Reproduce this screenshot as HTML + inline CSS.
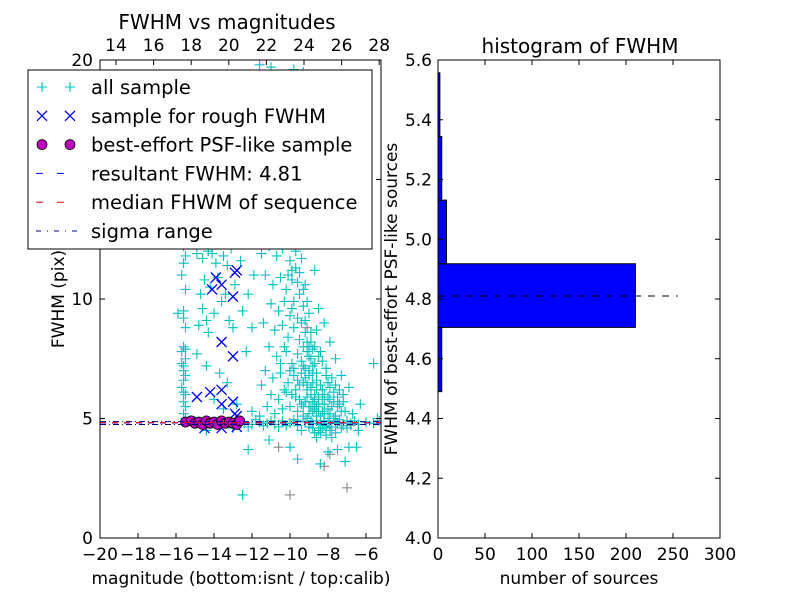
<!DOCTYPE html>
<html><head><meta charset="utf-8"><style>
html,body{margin:0;padding:0;background:#fff;}
svg{display:block;font-family:"DejaVu Sans","Liberation Sans",sans-serif;}
</style></head><body>
<svg id="chart" width="800" height="600" viewBox="0 0 800 600">
<defs>
<clipPath id="clipL"><rect x="100" y="60" width="281" height="478"/></clipPath>
<clipPath id="clipR"><rect x="438" y="60" width="282" height="478"/></clipPath>
</defs>
<rect width="800" height="600" fill="#fff"/>
<g id="left"></g>
<g id="right"></g>
</svg>
<script>
const allSample=[[-15.6,12.2],[-15.5,11.8],[-15.6,11.5],[-15.7,11.0],[-15.5,10.4],[-15.6,9.5],[-15.6,9.2],[-15.5,8.8],[-15.6,8.0],[-15.7,7.8],[-15.5,7.5],[-15.6,7.2],[-15.6,7.0],[-15.5,6.8],[-15.6,6.6],[-15.7,6.3],[-15.5,6.0],[-15.6,5.7],[-15.5,5.5],[-15.6,5.2],[-15.5,5.0],[-15.6,12.6],[-15.5,7.9],[-15.7,7.3],[-15.6,6.1],
[-14.9,11.9],[-14.6,11.7],[-14.3,12.0],[-13.9,11.5],[-13.5,11.8],[-13.1,12.1],[-14.5,10.8],[-14.2,10.5],[-13.8,10.9],[-13.4,10.2],[-12.9,10.6],[-14.6,9.6],[-14.0,9.4],[-13.6,9.9],[-13.2,9.1],[-14.8,8.9],[-14.3,8.6],[-13.0,8.8],[-12.5,9.5],[-12.2,10.2],[-14.9,7.7],[-14.4,7.2],[-13.7,6.9],[-13.3,6.5],[-14.0,5.8],[-13.5,5.4],[-12.8,5.6],[-12.3,7.8],[-12.0,8.8],[-11.9,11.0],[-12.6,11.6],[-15.9,9.4],[-14.7,12.3],[-14.1,11.9],[-13.3,11.4],[-14.7,10.2],[-14.4,9.1],
[-11.5,11.9],[-11.1,12.2],[-10.7,11.8],[-10.4,12.1],[-10.0,11.6],[-9.7,12.0],[-9.4,11.7],[-11.3,11.0],[-10.9,10.6],[-10.5,10.9],[-10.2,10.4],[-9.9,10.8],[-9.5,10.2],[-9.2,10.6],[-11.0,9.8],[-10.6,9.5],[-10.3,9.9],[-9.9,9.6],[-9.6,9.2],[-9.3,9.7],[-9.0,9.4],[-11.4,9.0],[-10.8,8.7],[-10.4,8.9],[-10.1,8.4],[-9.8,8.8],[-9.5,8.3],[-9.2,8.6],[-8.9,8.2],[-8.6,8.7],[-11.1,8.0],[-10.7,7.6],[-10.2,7.8],[-9.9,7.3],[-9.6,7.7],[-9.3,7.2],[-9.0,7.6],[-8.7,7.3],[-8.4,7.8],[-8.1,7.1],[-11.3,7.0],[-10.9,6.7],[-10.5,6.9],[-10.1,6.5],[-9.8,6.8],[-9.5,6.4],[-9.2,6.7],[-8.9,6.3],[-8.6,6.6],[-8.3,6.2],[-8.0,6.5],[-7.7,6.1],[-11.0,6.0],[-10.6,5.8],[-10.2,6.1],[-9.7,5.9],[-9.4,5.6],[-9.1,5.9],[-8.8,5.7],[-8.5,5.9],[-8.2,5.6],[-7.9,5.8],[-7.5,5.5],[-7.2,6.0],[-9.6,5.3],[-9.0,5.2],[-8.6,5.1],[-8.3,5.3],[-7.9,5.2],[-7.6,5.1],[-7.3,5.3],[-9.3,5.5],[-8.7,5.4],[-8.0,5.0],
[-9.0,7.0],[-8.8,6.9],[-9.1,6.2],[-8.7,6.0],[-8.9,5.5],[-8.5,5.3],[-8.2,4.9],[-8.8,4.6],[-8.4,4.4],[-8.1,4.3],[-7.9,4.5],[-7.6,4.4],[-7.3,4.6],[-8.6,4.2],[-7.8,4.2],[-7.0,4.9],[-6.7,5.2],[-6.3,5.6],[-6.4,4.5],[-5.6,7.3],[-5.4,5.0],[-6.9,3.8],[-8.0,3.6],[-7.5,3.7],[-6.5,3.8],[-9.6,3.3],[-8.4,3.1],[-7.1,3.2],[-9.4,12.8],[-9.0,12.3],[-8.7,11.2],[-8.5,9.6],[-8.2,9.0],[-7.9,8.2],[-7.6,7.5],[-7.3,6.8],[-6.9,6.3],[-10.8,13.5],[-10.2,14.0],[-9.6,14.5],[-11.2,15.0],[-10.5,16.0],[-9.8,17.0],[-11.6,19.8],[-11.0,19.7],[-9.8,19.6],[-9.3,19.5],[-11.9,13.0],[-12.3,12.5],[-10.0,3.8],[-11.1,4.1],[-12.5,1.8],[-12.2,3.7],
[-9.3,8.0],[-9.1,7.8],[-8.9,7.5],[-8.8,7.9],[-9.4,7.4],[-9.2,7.1],[-9.0,6.8],[-8.8,6.5],[-8.6,6.2],[-9.3,6.5],[-9.1,6.4],[-8.9,6.0],[-8.7,5.8],[-8.5,5.6],[-8.3,5.8],[-9.2,5.7],[-9.0,5.5],[-8.8,5.3],[-8.6,5.5],[-8.4,5.1],[-8.2,5.2],[-8.0,5.4],[-7.8,5.5],[-7.7,5.0],[-7.5,4.8],[-7.4,5.6],[-7.9,4.9],[-8.1,4.6],[-8.3,4.6],[-8.5,4.5],[-8.7,4.4],[-8.9,4.9],[-9.1,5.0],[-9.3,5.1],[-9.5,5.8],[-9.7,6.2],[-9.9,6.0],[-9.4,6.9],[-9.6,6.6],[-9.8,7.1],[-9.1,8.2],[-8.9,8.6],[-8.7,8.0],[-8.5,7.6],[-8.3,7.4],[-8.1,6.8],[-7.9,6.3],[-7.8,6.7],[-7.6,6.4],[-7.4,6.2],[-7.2,5.7],[-7.1,5.3],[-7.5,5.9],[-7.7,5.7],[-8.0,5.9],[-8.2,6.0],[-8.4,6.4],[-8.6,6.9],[-8.8,7.2],[-9.0,8.0],[-9.2,9.1],[-9.4,9.0],[-9.1,9.9],[-9.3,10.4],[-9.6,10.7],[-9.7,11.3],[-9.5,11.1],[-9.9,11.2],[-10.1,11.0],[-9.8,9.9],[-10.0,9.3],[-10.3,8.0],[-10.5,7.3],[-10.0,7.0],[-10.3,6.2],[-10.0,5.5],[-9.6,4.9],[-9.4,4.5],[-10.4,5.4],[-10.8,5.2],[-11.2,5.5],[-11.5,6.4],[-11.6,5.1],[-12.0,5.3],
[-12.4,4.8],[-12.0,4.75],[-11.6,4.85],[-11.2,4.8],[-10.8,4.75],[-10.4,4.9],[-10.0,4.8],[-9.6,4.7],[-9.2,4.85],[-8.8,4.8],[-8.4,4.75],[-8.0,4.8],[-7.6,4.85],[-7.2,4.7],[-6.8,4.8],[-6.4,4.75],[-6.0,4.85],[-5.6,4.8],[-5.3,4.9],[-13.0,4.6],[-14.4,4.5],[-15.0,4.9],[-12.2,4.65],[-11.8,4.95],[-11.4,4.7],[-11.0,4.9],[-10.6,4.65],[-10.2,4.7],[-9.8,4.95],[-9.0,4.65],[-8.6,4.9],[-8.2,4.7],[-7.8,4.65],[-7.4,4.95],[-7.0,4.6],[-6.6,4.9]];
const otherSample=[[-10.6,3.8],[-7.9,3.5],[-7.0,2.1],[-10.0,1.8],[-8.2,3.0],[-9.1,8.8],[-14.4,4.6],[-6.8,4.7]];
const roughSample=[[-12.9,11.1],[-12.8,11.2],[-13.9,10.9],[-14.1,10.4],[-13.0,10.1],[-13.6,10.6],[-13.6,8.2],[-13.0,7.6],[-14.2,6.1],[-13.6,6.2],[-13.6,5.6],[-13.0,5.7],[-12.9,5.2],[-12.8,5.1],[-14.5,4.6],[-13.6,4.6],[-12.8,4.65],[-14.2,4.8],[-14.9,5.9]];
const psfSample=[[-15.5,4.85],[-15.2,4.9],[-15.0,4.8],[-14.8,4.85],[-14.6,4.75],[-14.4,4.9],[-14.2,4.8],[-14.0,4.85],[-13.8,4.75],[-13.6,4.9],[-13.4,4.8],[-13.2,4.85],[-13.0,4.8],[-12.8,4.75],[-12.65,4.9]];
const resultFwhm=4.81;
const medianFwhm=4.83;
const sigmaRange=[4.75,4.87];
const binEdges=[4.49,4.705,4.918,5.131,5.344,5.557];
const binCounts=[4,210,9,4,2];
const bottomTicks=[-20,-18,-16,-14,-12,-10,-8,-6];
const topTicks=[14,16,18,20,22,24,26,28];
const leftYTicks=[0,5,10,15,20];
const histYTicks=[4.0,4.2,4.4,4.6,4.8,5.0,5.2,5.4,5.6];
const histXTicks=[0,50,100,150,200,250,300];

const NS='http://www.w3.org/2000/svg';
function mk(tag,attrs,parent){const e=document.createElementNS(NS,tag);for(const k in attrs)e.setAttribute(k,attrs[k]);parent.appendChild(e);return e;}
const L=document.getElementById('left'),R=document.getElementById('right');
const lx=v=>100+(v+20)*19, ly=v=>538-v*23.9, tx=v=>116+(v-14)*18.8;
const rx=v=>438+v*0.94, ry=v=>538-(v-4.0)*298.75;

const gL=mk('g',{'clip-path':'url(#clipL)'},L);
function plus(g,x,y,c,nm){const p=mk('path',{d:`M${x-5},${y}h10M${x},${y-5}v10`,stroke:c,'stroke-width':1.1,fill:'none'},g);}
function cross(g,x,y,c,nm){const p=mk('path',{d:`M${x-5},${y-5}l10,10M${x-5},${y+5}l10,-10`,stroke:c,'stroke-width':1.3,fill:'none'},g);}
function circ(g,x,y,nm){const p=mk('circle',{cx:x,cy:y,r:5,fill:'#bf00bf',stroke:'#000','stroke-width':0.8},g);}
otherSample.forEach(d=>plus(gL,lx(d[0]),ly(d[1]),'#888','other-point'));
allSample.forEach(d=>plus(gL,lx(d[0]),ly(d[1]),'#00bfbf','all-sample-point'));
roughSample.forEach(d=>cross(gL,lx(d[0]),ly(d[1]),'#0000ff','rough-sample-point'));
psfSample.forEach(d=>circ(gL,lx(d[0]),ly(d[1]),'psf-sample-point'));
function hline(g,y,c,dash,nm,x1,x2){const l=mk('line',{x1:x1,x2:x2,y1:y,y2:y,stroke:c,'stroke-width':1,'stroke-dasharray':dash},g);}
hline(gL,ly(resultFwhm),'#0000ff','6,6','resultant-fwhm-line',100,381);
hline(gL,ly(medianFwhm),'#ff0000','6,6','median-fwhm-line',100,381);
sigmaRange.forEach(s=>hline(gL,ly(s),'#00008b','6,3,1,3','sigma-range-line',100,381));

function axesFrame(g,x,y,w,h,nm){const r=mk('rect',{x:x,y:y,width:w,height:h,fill:'none',stroke:'#000','stroke-width':1},g);}
function txt(g,x,y,s,size,anchor,nm,rot){const t=mk('text',{x:x,y:y,'font-size':size,'text-anchor':anchor||'middle',fill:'#000'},g);if(rot)t.setAttribute('transform',`rotate(-90 ${x} ${y})`);t.textContent=s;return t;}
axesFrame(L,100,60,281,478,'scatter-frame');
bottomTicks.forEach(v=>{const x=lx(v);mk('line',{x1:x,x2:x,y1:538,y2:533,stroke:'#000'},L);txt(L,x,560,(v<0?'\u2212':'')+Math.abs(v),17,'middle','x-tick-label');});
topTicks.forEach(v=>{const x=tx(v);mk('line',{x1:x,x2:x,y1:60,y2:65,stroke:'#000'},L);txt(L,x,51,String(v),17,'middle','top-x-tick-label');});
leftYTicks.forEach(v=>{const y=ly(v);mk('line',{x1:100,x2:105,y1:y,y2:y,stroke:'#000'},L);mk('line',{x1:381,x2:376,y1:y,y2:y,stroke:'#000'},L);txt(L,93,y+6,String(v),17,'end','y-tick-label');});
txt(L,241,584,'magnitude (bottom:isnt / top:calib)',17,'middle','x-axis-title');
txt(L,64,299,'FWHM (pix)',17,'middle','y-axis-title',true);
txt(L,227,29,'FWHM vs magnitudes',20,'middle','scatter-title');

const lg=mk('g',{},L);
mk('rect',{x:28,y:70,width:344,height:179,fill:'#fff',stroke:'#000','stroke-width':1},lg);
const rows=['all sample','sample for rough FWHM','best-effort PSF-like sample','resultant FWHM: 4.81','median FHWM of sequence','sigma range'];
rows.forEach((s,i)=>{const y=87+i*28.8;
 if(i==0){plus(lg,42,y,'#00bfbf','legend-marker');plus(lg,70,y,'#00bfbf','legend-marker');}
 if(i==1){cross(lg,42,y,'#0000ff','legend-marker');cross(lg,70,y,'#0000ff','legend-marker');}
 if(i==2){circ(lg,42,y,'legend-marker');circ(lg,70,y,'legend-marker');}
 if(i==3)hline(lg,y,'#0000ff','7,14','legend-line',36,78);
 if(i==4)hline(lg,y,'#ff0000','7,14','legend-line',36,78);
 if(i==5)hline(lg,y,'#00008b','5,6,1,6','legend-line',36,78);
 txt(lg,91,y+7,s,19.5,'start','legend-entry');});

const gR=mk('g',{'clip-path':'url(#clipR)'},R);
binCounts.forEach((c,i)=>{const y1=ry(binEdges[i+1]),y0=ry(binEdges[i]);const b=mk('rect',{x:438,y:y1,width:rx(c)-438,height:y0-y1,fill:'#0000ff',stroke:'#000','stroke-width':1},gR);});
hline(gR,ry(resultFwhm),'#000','7,7','hist-fwhm-line',438,rx(255));
axesFrame(R,438,60,282,478,'hist-frame');
histXTicks.forEach(v=>{const x=rx(v);mk('line',{x1:x,x2:x,y1:538,y2:533,stroke:'#000'},R);mk('line',{x1:x,x2:x,y1:60,y2:65,stroke:'#000'},R);txt(R,x,560,String(v),17,'middle','hist-x-tick-label');});
histYTicks.forEach(v=>{const y=ry(v);mk('line',{x1:438,x2:443,y1:y,y2:y,stroke:'#000'},R);mk('line',{x1:720,x2:715,y1:y,y2:y,stroke:'#000'},R);txt(R,432,y+6,v.toFixed(1),17,'end','hist-y-tick-label');});
txt(R,579,584,'number of sources',17,'middle','hist-x-axis-title');
txt(R,397,299,'FWHM of best-effort PSF-like sources',17,'middle','hist-y-axis-title',true);
txt(R,580,53,'histogram of FWHM',20,'middle','hist-title');
</script>
</body></html>
